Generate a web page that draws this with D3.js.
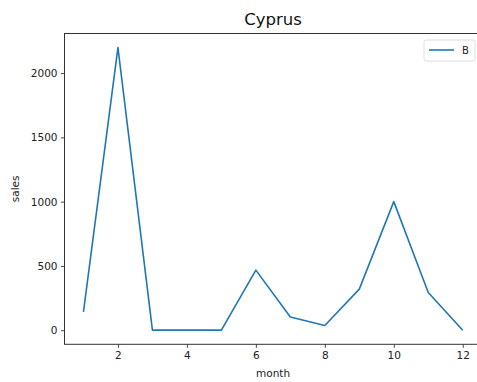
<!DOCTYPE html>
<html>
<head>
<meta charset="utf-8">
<script src="https://cdn.jsdelivr.net/npm/d3@7"></script>
<style>
  html, body { margin: 0; padding: 0; background: #fff; }
  svg { display: block; font-family: "DejaVu Sans", sans-serif; }
</style>
</head>
<body>
<svg id="chart" width="477" height="382"></svg>
<script>
// Monthly sales, Cyprus, series B
const months = [1, 2, 3, 4, 5, 6, 7, 8, 9, 10, 11, 12];
const salesB = [142, 2198, 0, 0, 0, 467, 103, 36, 319, 1000, 293, 0];
const xTicks = [2, 4, 6, 8, 10, 12];
const yTicks = [0, 500, 1000, 1500, 2000];
const seriesName = "B";
const titleText = "Cyprus";

const svg = d3.select("#chart");
const plot = { left: 64.5, right: 481.7, top: 33.5, bottom: 344.3 };

// 5% padding on each side of the data range
const xPad = (d3.max(months) - d3.min(months)) * 0.05;
const yPad = (d3.max(salesB) - d3.min(salesB)) * 0.05;
const x = d3.scaleLinear()
  .domain([d3.min(months) - xPad, d3.max(months) + xPad])
  .range([plot.left, plot.right]);
const y = d3.scaleLinear()
  .domain([d3.min(salesB) - yPad, d3.max(salesB) + yPad])
  .range([plot.bottom, plot.top]);

// data line
const line = d3.line().x((d, i) => x(months[i])).y(d => y(d));
svg.append("path")
  .datum(salesB)
  .attr("fill", "none")
  .attr("stroke", "#1f77b4")
  .attr("stroke-width", 1.6)
  .attr("stroke-linejoin", "round")
  .attr("d", line);

// axes
const xAxis = svg.append("g")
  .attr("transform", `translate(0,${plot.bottom})`)
  .call(d3.axisBottom(x).tickValues(xTicks).tickSize(3.5).tickPadding(3.5).tickFormat(d3.format("d")));
const yAxis = svg.append("g")
  .attr("transform", `translate(${plot.left},0)`)
  .call(d3.axisLeft(y).tickValues(yTicks).tickSize(3.5).tickPadding(3.5).tickFormat(d3.format("d")));
[xAxis, yAxis].forEach(g => {
  g.select(".domain").remove();
  g.selectAll(".tick line").attr("stroke", "#333").attr("stroke-width", 0.9);
  g.selectAll(".tick text").attr("fill", "#222").style("font-size", "10.5px")
    .style("font-family", "'DejaVu Sans', sans-serif");
});

// frame
svg.append("rect")
  .attr("x", plot.left).attr("y", plot.top)
  .attr("width", plot.right - plot.left).attr("height", plot.bottom - plot.top)
  .attr("fill", "none").attr("stroke", "#333").attr("stroke-width", 1);

// labels
svg.append("text")
  .attr("x", (plot.left + plot.right) / 2).attr("y", 25)
  .attr("text-anchor", "middle")
  .style("font-size", "16.5px").attr("fill", "#111")
  .text(titleText);
svg.append("text")
  .attr("x", (plot.left + plot.right) / 2).attr("y", 377)
  .attr("text-anchor", "middle")
  .style("font-size", "10.5px").attr("fill", "#222")
  .text("month");
svg.append("text")
  .attr("transform", `translate(19,${(plot.top + plot.bottom) / 2}) rotate(-90)`)
  .attr("text-anchor", "middle")
  .style("font-size", "10.5px").attr("fill", "#222")
  .text("sales");

// legend
const lg = svg.append("g").attr("transform", "translate(424,40)");
lg.append("rect")
  .attr("width", 51).attr("height", 21).attr("rx", 2.5)
  .attr("fill", "#fff").attr("stroke", "#ddd").attr("stroke-width", 1);
lg.append("line")
  .attr("x1", 5).attr("x2", 30).attr("y1", 10).attr("y2", 10)
  .attr("stroke", "#1f77b4").attr("stroke-width", 1.6);
lg.append("text")
  .attr("x", 38).attr("y", 14)
  .style("font-size", "10px").attr("fill", "#222")
  .text(seriesName);
</script>
</body>
</html>
